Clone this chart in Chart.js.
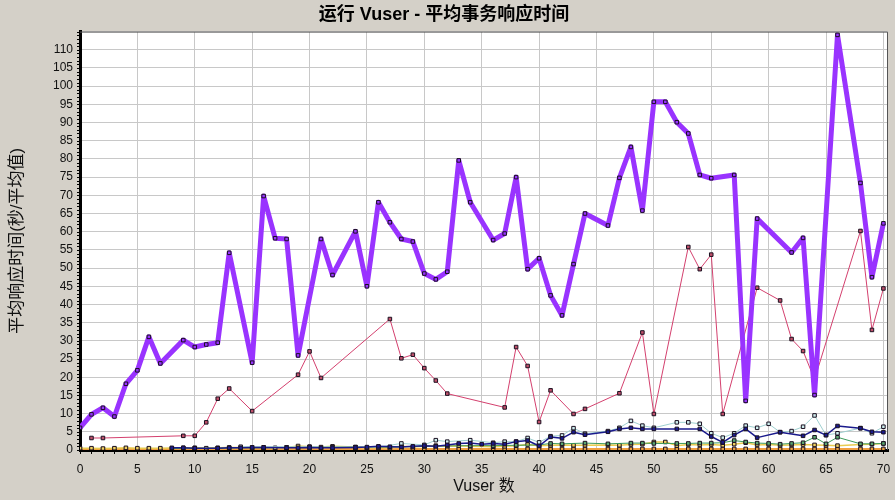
<!DOCTYPE html>
<html>
<head>
<meta charset="utf-8">
<script src="https://cdn.jsdelivr.net/npm/chart.js@4"></script>
<style>
  html, body { margin: 0; padding: 0; background: #d4d0c8; }
  #wrap { width: 895px; height: 500px; }
</style>
</head>
<body>
<div id="wrap"><canvas id="chart" width="895" height="500"></canvas></div>
<script>
// Chart texts
const chartTitle = '运行 Vuser - 平均事务响应时间';
const xTitle = 'Vuser 数';
const yTitle = '平均响应时间(秒/平均值)';

// Axis ticks
const xTicks = [0, 5, 10, 15, 20, 25, 30, 35, 40, 45, 50, 55, 60, 65, 70];
const yTicks = [0, 5, 10, 15, 20, 25, 30, 35, 40, 45, 50, 55, 60, 65, 70, 75, 80, 85, 90, 95, 100, 105, 110];

// Purple (thick) transaction
const purpleX = [0,1,2,3,4,5,6,7,9,10,11,12,13,15,16,17,18,19,21,22,24,25,26,27,28,29,30,31,32,33,34,36,37,38,39,40,41,42,43,44,46,47,48,49,50,51,52,53,54,55,57,58,59,62,63,64,66,68,69,70];
const purpleY = [6.1,9.8,11.6,9.2,18.2,21.9,31.1,23.8,30.2,28.3,29.0,29.5,54.2,24.0,69.8,58.2,58.0,26.0,58.0,48.1,60.1,45.0,68.1,62.6,58.0,57.3,48.5,46.9,49.0,79.6,68.1,57.7,59.5,75.0,49.7,52.7,42.5,37.0,51.1,65.0,61.7,74.8,83.3,65.8,95.7,95.7,90.1,87.0,75.6,74.7,75.6,13.5,63.6,54.3,58.3,15.1,114.1,73.4,47.5,62.3];

// Pink transaction
const pinkX = [1,2,9,10,11,12,13,15,19,20,21,27,28,29,30,31,32,37,38,39,40,41,43,44,47,49,50,53,54,55,56,59,61,62,63,64,68,69,70];
const pinkY = [3.3,3.3,3.9,3.9,7.6,14.1,16.9,10.7,20.7,27.1,19.8,36.0,25.2,26.2,22.5,19.1,15.5,11.7,28.3,23.1,7.7,16.4,9.9,11.3,15.6,32.3,9.9,55.8,49.7,53.7,9.9,44.6,41.1,30.5,27.2,19.4,60.2,33.0,44.4];

// Small transactions near the bottom
const navyX = [8,9,10,12,13,14,15,16,18,19,20,21,22,24,25,26,27,28,29,30,31,32,33,34,35,36,37,38,39,40,41,42,43,44,46,47,48,49,50,52,54,55,56,57,58,59,61,63,64,65,66,68,69,70];
const navyY = [0.6,0.6,0.5,0.5,0.6,0.6,0.7,0.7,0.6,0.6,0.7,0.6,0.6,0.7,0.8,1.0,0.9,0.8,1.0,1.2,1.0,1.4,1.8,1.9,1.6,1.8,1.6,2.3,2.6,1.1,3.6,3.2,4.9,4.2,5.0,5.8,6.1,5.8,5.8,5.8,5.8,3.7,2.1,4.1,5.8,3.4,4.9,3.9,5.5,4.1,6.6,6.0,5.0,4.9];

const cyanX = [14,20,26,28,30,31,32,34,36,37,38,39,40,41,42,43,44,46,47,48,49,50,52,53,54,55,56,57,58,59,60,61,62,63,64,65,66,68,69,70];
const cyanY = [0.9,0.9,0.8,1.8,1.4,2.7,2.3,2.7,2.0,2.3,2.3,3.3,2.1,3.8,4.0,6.0,4.5,5.2,6.1,8.0,6.7,6.1,7.6,7.6,7.2,4.6,3.4,4.6,6.7,6.1,7.2,4.9,5.2,6.4,9.5,4.1,4.6,6.0,4.6,6.4];

const greenX = [8,10,12,14,16,18,20,22,24,26,28,30,32,34,36,38,40,41,42,44,46,48,49,50,52,53,54,55,56,57,58,59,60,61,62,63,64,65,66,68,69,70];
const greenY = [0.4,0.5,0.5,0.6,0.6,0.7,0.7,0.8,0.8,0.8,0.9,1.0,1.1,1.2,1.2,1.3,1.4,1.8,1.7,1.9,1.7,1.9,1.9,1.8,1.8,1.8,1.9,1.9,2.0,2.6,2.2,1.9,1.8,1.6,1.8,2.0,3.5,1.7,3.5,1.7,1.7,1.8];

const goldX = [0,1,2,3,4,5,6,7,9,10,11,12,13,15,16,17,18,19,20,21,22,24,25,26,27,28,29,30,31,32,33,34,36,37,38,39,40,41,42,43,44,46,47,48,49,50,51,52,53,54,55,56,57,58,59,60,61,62,63,64,65,66,68,69,70];
const goldY = [0.5,0.5,0.4,0.5,0.6,0.5,0.5,0.5,0.6,0.6,0.5,0.6,0.7,0.7,0.7,0.6,0.7,1.1,0.9,0.8,1.0,0.8,0.6,0.7,0.7,1.0,0.8,1.0,1.2,1.1,1.2,1.0,0.9,1.0,1.2,1.5,1.2,1.3,1.4,1.3,1.3,1.4,1.3,1.5,1.6,2.2,2.2,1.2,1.5,1.4,1.5,1.3,1.6,2.0,1.4,1.5,1.3,1.4,1.5,1.4,1.3,1.2,1.5,1.6,1.8];

const orangeX = goldX;
const orangeY = [0.3,0.2,0.2,0.3,0.3,0.2,0.2,0.2,0.3,0.3,0.2,0.3,0.3,0.3,0.3,0.2,0.3,0.3,0.3,0.2,0.3,0.3,0.2,0.3,0.2,0.3,0.3,0.3,0.3,0.3,0.3,0.3,0.3,0.3,0.3,0.3,0.3,0.3,0.3,0.3,0.3,0.3,0.3,0.3,0.3,0.3,0.3,0.3,0.3,0.3,0.3,0.3,0.3,0.3,0.3,0.3,0.3,0.3,0.3,0.3,0.3,0.3,0.3,0.3,0.3];

function pts(xs, ys) {
    return xs.map((x, i) => ({ x: x, y: ys[i] }));
}

function series(xs, ys, color, width, fill, radius) {
    return {
        data: pts(xs, ys),
        borderColor: color,
        borderWidth: width,
        borderJoinStyle: 'round',
        pointStyle: 'rect',
        pointRadius: radius,
        pointBackgroundColor: fill,
        pointBorderColor: '#1a1020',
        pointBorderWidth: 1,
        tension: 0
    };
}

// gray page, white plot area, frame and small ticks
const frame = {
    id: 'frame',
    beforeDraw(chart) {
        const { ctx, chartArea: a } = chart;
        ctx.save();
        ctx.fillStyle = '#d4d0c8';
        ctx.fillRect(0, 0, chart.width, chart.height);
        ctx.fillStyle = '#ffffff';
        ctx.fillRect(a.left, a.top, a.right - a.left, a.bottom - a.top);
        ctx.restore();
    },
    afterDraw(chart) {
        const { ctx, chartArea: a, scales } = chart;
        ctx.save();
        ctx.strokeStyle = '#555555';
        ctx.lineWidth = 1;
        ctx.beginPath();
        ctx.moveTo(a.left, a.top + 0.5);
        ctx.lineTo(a.right - 0.5, a.top + 0.5);
        ctx.lineTo(a.right - 0.5, a.bottom);
        ctx.stroke();
        // minor ticks
        ctx.strokeStyle = '#000000';
        ctx.beginPath();
        for (let v = 0; v <= 115; v++) {
            const y = Math.round(scales.y.getPixelForValue(v)) + 0.5;
            ctx.moveTo(a.left - 3, y);
            ctx.lineTo(a.left, y);
        }
        for (let v = 0; v <= 70; v++) {
            const x = Math.round(scales.x.getPixelForValue(v)) + 0.5;
            ctx.moveTo(x, a.bottom);
            ctx.lineTo(x, a.bottom + 4);
        }
        ctx.stroke();
        ctx.restore();
    }
};

const tickFont = { family: '"Liberation Sans", Arial, sans-serif', size: 12 };

new Chart(document.getElementById('chart'), {
    type: 'line',
    data: {
        datasets: [
            series(purpleX, purpleY, '#9933ff', 5, '#9933ff', 2.5),
            series(pinkX, pinkY, '#d4406e', 1, '#c0506a', 2.5),
            series(navyX, navyY, '#1a1a8c', 1.5, '#1a1a8c', 2.5),
            series(cyanX, cyanY, '#9fd0d0', 1, '#cfeeee', 2.5),
            series(greenX, greenY, '#3c9a5a', 1, '#5aa870', 2.5),
            series(goldX, goldY, '#e8cc50', 1.5, '#f0d060', 2.5),
            series(orangeX, orangeY, '#f0a040', 2, '#e8a040', 2.5)
        ]
    },
    options: {
        responsive: false,
        animation: false,
        layout: { padding: { left: 0, right: 7, top: 0, bottom: 0 } },
        plugins: {
            legend: { display: false },
            tooltip: { enabled: false },
            title: {
                display: true,
                text: chartTitle,
                color: '#000000',
                font: { family: '"Liberation Sans", "Noto Sans CJK SC", sans-serif', size: 18, weight: 'bold' },
                padding: { top: 4, bottom: 6 }
            }
        },
        scales: {
            x: {
                type: 'linear',
                min: 0,
                max: 70.4,
                afterBuildTicks: (s) => { s.ticks = xTicks.map(v => ({ value: v })); },
                afterFit: (s) => { s.height = 50; s.paddingRight = 0; s.paddingLeft = 0; },
                grid: { color: '#c8c8c8', lineWidth: 1, drawTicks: false },
                border: { color: '#000000', width: 3 },
                ticks: { color: '#111111', font: tickFont, padding: 12, maxRotation: 0 },
                title: {
                    display: true,
                    text: xTitle,
                    color: '#111111',
                    font: { family: '"Liberation Sans", "Noto Sans CJK SC", sans-serif', size: 16 },
                    padding: { top: 0, bottom: 4 }
                }
            },
            y: {
                min: 0,
                max: 115,
                afterBuildTicks: (s) => { s.ticks = yTicks.concat([115]).map(v => ({ value: v })); },
                afterFit: (s) => { s.width = 80; s.paddingTop = 0; s.paddingBottom = 0; },
                grid: { color: '#c8c8c8', lineWidth: 1, drawTicks: false },
                border: { color: '#000000', width: 3 },
                ticks: {
                    color: '#111111',
                    font: tickFont,
                    padding: 7,
                    callback: (v) => (v > 110 ? '' : v)
                },
                title: {
                    display: true,
                    text: yTitle,
                    color: '#111111',
                    font: { family: '"Liberation Sans", "Noto Sans CJK SC", sans-serif', size: 17 },
                    padding: { top: 7, bottom: 0 }
                }
            }
        }
    },
    plugins: [frame]
});
</script>
</body>
</html>
